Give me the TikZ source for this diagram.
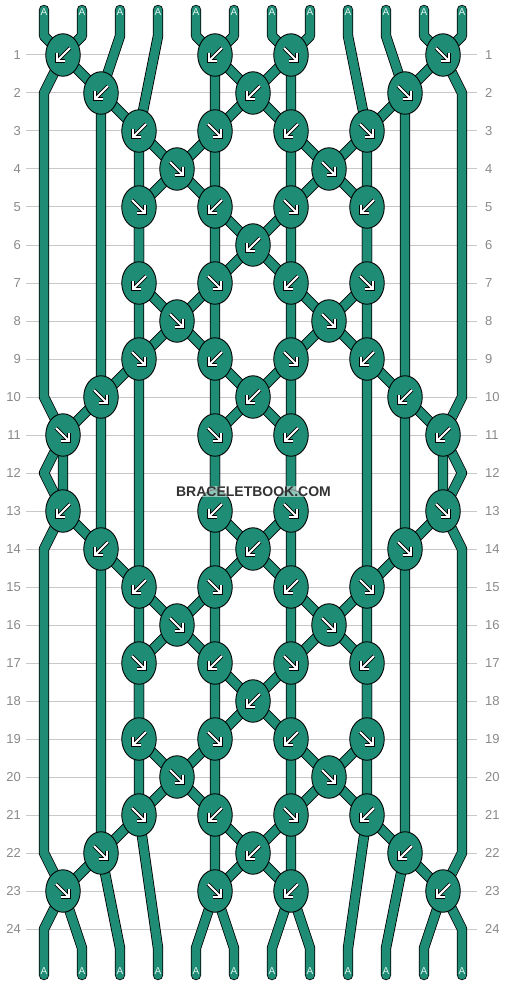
\documentclass[tikz,border=0pt]{standalone}
\usepackage{fontspec}
\setmainfont{Liberation Sans}
\usetikzlibrary{shapes.geometric}
\definecolor{teal1}{RGB}{31,141,118}
\definecolor{gridc}{RGB}{200,200,200}
\definecolor{numc}{RGB}{138,138,138}
\definecolor{wmark}{RGB}{51,51,51}
\definecolor{labc}{RGB}{225,245,238}
\newcommand\myknots{1/1/-1, 1/5/-1, 1/7/1, 1/11/1,
 2/2/-1, 2/6/-1, 2/10/1,
 3/3/-1, 3/5/1, 3/7/-1, 3/9/1,
 4/4/1, 4/8/1,
 5/3/1, 5/5/-1, 5/7/1, 5/9/-1,
 6/6/-1,
 7/3/-1, 7/5/1, 7/7/-1, 7/9/1,
 8/4/1, 8/8/1,
 9/3/1, 9/5/-1, 9/7/1, 9/9/-1,
 10/2/1, 10/6/-1, 10/10/-1,
 11/1/1, 11/5/1, 11/7/-1, 11/11/-1,
 13/1/-1, 13/5/-1, 13/7/1, 13/11/1,
 14/2/-1, 14/6/-1, 14/10/1,
 15/3/-1, 15/5/1, 15/7/-1, 15/9/1,
 16/4/1, 16/8/1,
 17/3/1, 17/5/-1, 17/7/1, 17/9/-1,
 18/6/-1,
 19/3/-1, 19/5/1, 19/7/-1, 19/9/1,
 20/4/1, 20/8/1,
 21/3/1, 21/5/-1, 21/7/1, 21/9/-1,
 22/2/1, 22/6/-1, 22/10/-1,
 23/1/1, 23/5/1, 23/7/-1, 23/11/-1}
\newcommand\allstrands[1]{%
 \draw[#1] (t1)--(s1)--(c1-1)--(e2-1)--(e10-1)--(c11-1)--(e12-1)--(c13-1)--(e14-1)--(e22-1)--(c23-1)--(e24-1)--(b1)--(u1);
 \draw[#1] (t2)--(s2)--(c1-1)--(c2-2)--(c10-2)--(c11-1)--(c13-1)--(c14-2)--(c22-2)--(c23-1)--(b2)--(u2);
 \draw[#1] (t3)--(s3)--(c2-2)--(c3-3)--(c9-3)--(c10-2)--(c14-2)--(c15-3)--(c21-3)--(c22-2)--(b3)--(u3);
 \draw[#1] (t4)--(s4)--(c3-3)--(c4-4)--(c5-3)--(c7-3)--(c8-4)--(c9-3)--(c15-3)--(c16-4)--(c17-3)--(c19-3)--(c20-4)--(c21-3)--(b4)--(u4);
 \draw[#1] (t5)--(s5)--(c1-5)--(c3-5)--(c4-4)--(c5-5)--(c7-5)--(c8-4)--(c9-5)--(c15-5)--(c16-4)--(c17-5)--(c19-5)--(c20-4)--(c21-5)--(c23-5)--(b5)--(u5);
 \draw[#1] (t6)--(s6)--(c1-5)--(c2-6)--(c3-5)--(c5-5)--(c6-6)--(c7-5)--(c9-5)--(c10-6)--(c11-5)--(c13-5)--(c14-6)--(c15-5)--(c17-5)--(c18-6)--(c19-5)--(c21-5)--(c22-6)--(c23-5)--(b6)--(u6);
 \draw[#1] (t7)--(s7)--(c1-7)--(c2-6)--(c3-7)--(c5-7)--(c6-6)--(c7-7)--(c9-7)--(c10-6)--(c11-7)--(c13-7)--(c14-6)--(c15-7)--(c17-7)--(c18-6)--(c19-7)--(c21-7)--(c22-6)--(c23-7)--(b7)--(u7);
 \draw[#1] (t8)--(s8)--(c1-7)--(c3-7)--(c4-8)--(c5-7)--(c7-7)--(c8-8)--(c9-7)--(c15-7)--(c16-8)--(c17-7)--(c19-7)--(c20-8)--(c21-7)--(c23-7)--(b8)--(u8);
 \draw[#1] (t9)--(s9)--(c3-9)--(c4-8)--(c5-9)--(c7-9)--(c8-8)--(c9-9)--(c15-9)--(c16-8)--(c17-9)--(c19-9)--(c20-8)--(c21-9)--(b9)--(u9);
 \draw[#1] (t10)--(s10)--(c2-10)--(c3-9)--(c9-9)--(c10-10)--(c14-10)--(c15-9)--(c21-9)--(c22-10)--(b10)--(u10);
 \draw[#1] (t11)--(s11)--(c1-11)--(c2-10)--(c10-10)--(c11-11)--(c13-11)--(c14-10)--(c22-10)--(c23-11)--(b11)--(u11);
 \draw[#1] (t12)--(s12)--(c1-11)--(e2-12)--(e10-12)--(c11-11)--(e12-12)--(c13-11)--(e14-12)--(e22-12)--(c23-11)--(e24-12)--(b12)--(u12);
}
\begin{document}
\begin{tikzpicture}[x=1pt,y=-1pt,
 strandout/.style={line width=10.4pt, draw=black, line join=round, line cap=round},
 strandin/.style={line width=8.8pt, draw=teal1, line join=round, line cap=round},
 knot/.style={ellipse, draw=black, line width=0.9pt, fill=teal1, minimum width=34.5pt, minimum height=42.5pt, inner sep=0pt},
 arrowout/.style={draw=black, line width=3.8pt, line join=miter, line cap=butt},
 arrowin/.style={draw=white, line width=2.1pt, line join=miter, line cap=butt},
 rownum/.style={font=\fontsize{13}{13}\selectfont, text=numc, inner sep=0pt},
 endlabel/.style={font=\fontsize{10}{10}\selectfont, text=labc, inner sep=0pt},
 gridline/.style={draw=gridc, line width=1pt},
 wmstyle/.style={font=\bfseries\fontsize{14}{14}\selectfont, text=wmark, fill=white, fill opacity=0.5, text opacity=1, inner sep=0.5pt}
]
\fill[white] (0,0) rectangle (506,984);
\useasboundingbox (0,0) rectangle (506,984);
% grid and row numbers
\foreach \r in {1,...,24}{
  \draw[gridline] (26,{17+38*\r}) -- (477,{17+38*\r});
  \node[rownum, anchor=east] (nl\r) at (21,{17+38*\r}) {\r};
  \node[rownum, anchor=west] (nr\r) at (485,{17+38*\r}) {\r};
}
% coordinates
\foreach \q in {1,...,12}{
  \coordinate (t\q) at ({6+38*\q},10);
  \coordinate (s\q) at ({6+38*\q},36);
  \coordinate (b\q) at ({6+38*\q},948);
  \coordinate (u\q) at ({6+38*\q},975);
}
\foreach \r in {2,10,12,14,22,24}{
  \coordinate (e\r-1) at (44,{17+38*\r});
  \coordinate (e\r-12) at (462,{17+38*\r});
}
\foreach \r/\p/\d in \myknots{
  \coordinate (c\r-\p) at ({25+38*\p},{17+38*\r});
}
% strands
\allstrands{strandout}
\allstrands{strandin}
% knots
\foreach \r/\p/\d in \myknots{
  \node[knot] (k\r-\p) at (c\r-\p) {};
  \begin{scope}[shift={(c\r-\p)}]
    \draw[arrowout] ({-7*\d},-7) -- ({6.3*\d},6.3);
    \draw[arrowout] ({6.3*\d},-2) -- ({6.3*\d},6.3) -- ({-2*\d},6.3);
    \draw[arrowin] ({-7*\d},-7) -- ({6.3*\d},6.3);
    \draw[arrowin] ({6.3*\d},-2) -- ({6.3*\d},6.3) -- ({-2*\d},6.3);
  \end{scope}
}
% end labels
\foreach \q in {1,...,12}{
  \node[endlabel] (la\q) at ({6+38*\q},12.5) {A};
  \node[endlabel] (lb\q) at ({6+38*\q},971.5) {A};
}
\node[wmstyle] (wm) at (253.5,491.5) {BRACELETBOOK.COM};
\end{tikzpicture}
\end{document}
